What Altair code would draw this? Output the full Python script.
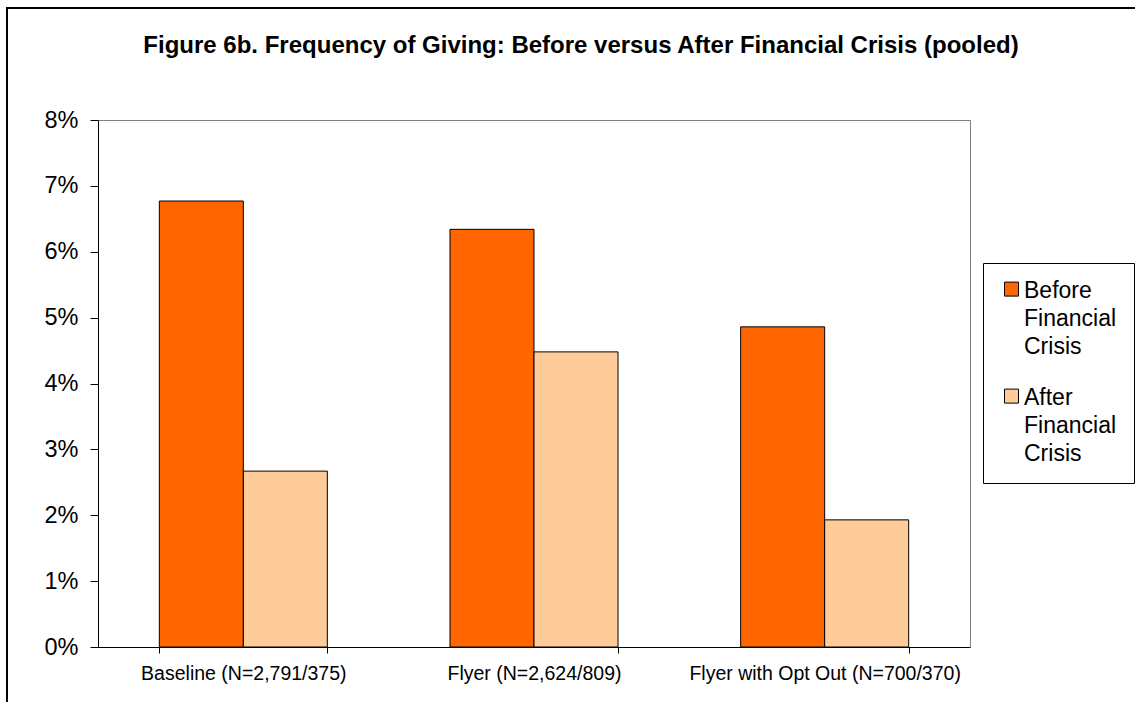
import altair as alt
import pandas as pd

groups = ["Baseline (N=2,791/375)", "Flyer (N=2,624/809)", "Flyer with Opt Out (N=700/370)"]
periods = ["Before Financial Crisis", "After Financial Crisis"]
before = [0.0677, 0.0634, 0.0486]
after = [0.0267, 0.0448, 0.0193]
colors = ["#FF6600", "#FFCC99"]
y_ticks = [0, 0.01, 0.02, 0.03, 0.04, 0.05, 0.06, 0.07, 0.08]
title_text = "Figure 6b. Frequency of Giving: Before versus After Financial Crisis (pooled)"

rows = []
for g, b, a in zip(groups, before, after):
    rows.append({"group": g, "period": periods[0], "value": b})
    rows.append({"group": g, "period": periods[1], "value": a})
df = pd.DataFrame(rows)

FONT = "Liberation Sans"

frame = alt.Chart(pd.DataFrame({"k": [0]})).mark_rect(
    filled=False, stroke="black", strokeWidth=2
).encode(
    x=alt.value(-91), x2=alt.value(1100), y=alt.value(-112), y2=alt.value(700)
)

bars = alt.Chart(df).mark_bar(stroke="black", strokeWidth=1).encode(
    x=alt.X(
        "group:N", sort=groups, title=None,
        scale=alt.Scale(paddingInner=0.422, paddingOuter=0.211),
        axis=alt.Axis(
            labelAngle=0, tickBand="extent", tickSize=6, tickColor="black",
            domainColor="black", labelFont=FONT, labelFontSize=19.5,
            labelColor="black", labelPadding=11, labelLimit=400,
        ),
    ),
    xOffset=alt.XOffset("period:N", sort=periods,
                        scale=alt.Scale(paddingInner=0, paddingOuter=0)),
    y=alt.Y(
        "value:Q", title=None,
        scale=alt.Scale(domain=[0, 0.08], nice=False),
        axis=alt.Axis(
            format=".0%", values=y_ticks, grid=False, tickSize=8,
            tickColor="black", domainColor="black", labelFont=FONT,
            labelFontSize=23.5, labelColor="black", labelPadding=12,
        ),
    ),
    color=alt.Color(
        "period:N", sort=periods,
        scale=alt.Scale(domain=periods, range=colors),
        legend=alt.Legend(
            title=" ", titleFontSize=1, titlePadding=5,
            orient="none", legendX=885, legendY=143,
            strokeColor="black", fillColor="white", padding=17,
            symbolType="M-1,-2.2L1,-2.2L1,-0.2L-1,-0.2Z",
            symbolSize=196, symbolStrokeColor="black",
            symbolStrokeWidth=1, symbolOpacity=1,
            labelFont=FONT, labelFontSize=23, labelColor="black",
            labelOffset=1, labelBaseline="alphabetic", rowPadding=27,
            labelExpr="split(datum.label, ' ')",
        ),
    ),
)

chart = alt.layer(frame, bars).properties(
    width=872,
    height=527,
    padding={"left": 98, "top": 120, "right": 165, "bottom": 55},
    autosize=alt.AutoSizeParams(type="none"),
    title=alt.TitleParams(
        title_text, font=FONT, fontSize=24, fontWeight="bold", color="black",
        anchor="middle", dx=47, offset=-51, frame="group",
    ),
).configure(
    background="white",
    style={"guide-label": {"lineHeight": 28}},
).configure_view(
    stroke="#808080", strokeWidth=1
)

chart.save("out.html", embed_options={"renderer": "svg", "actions": False})
